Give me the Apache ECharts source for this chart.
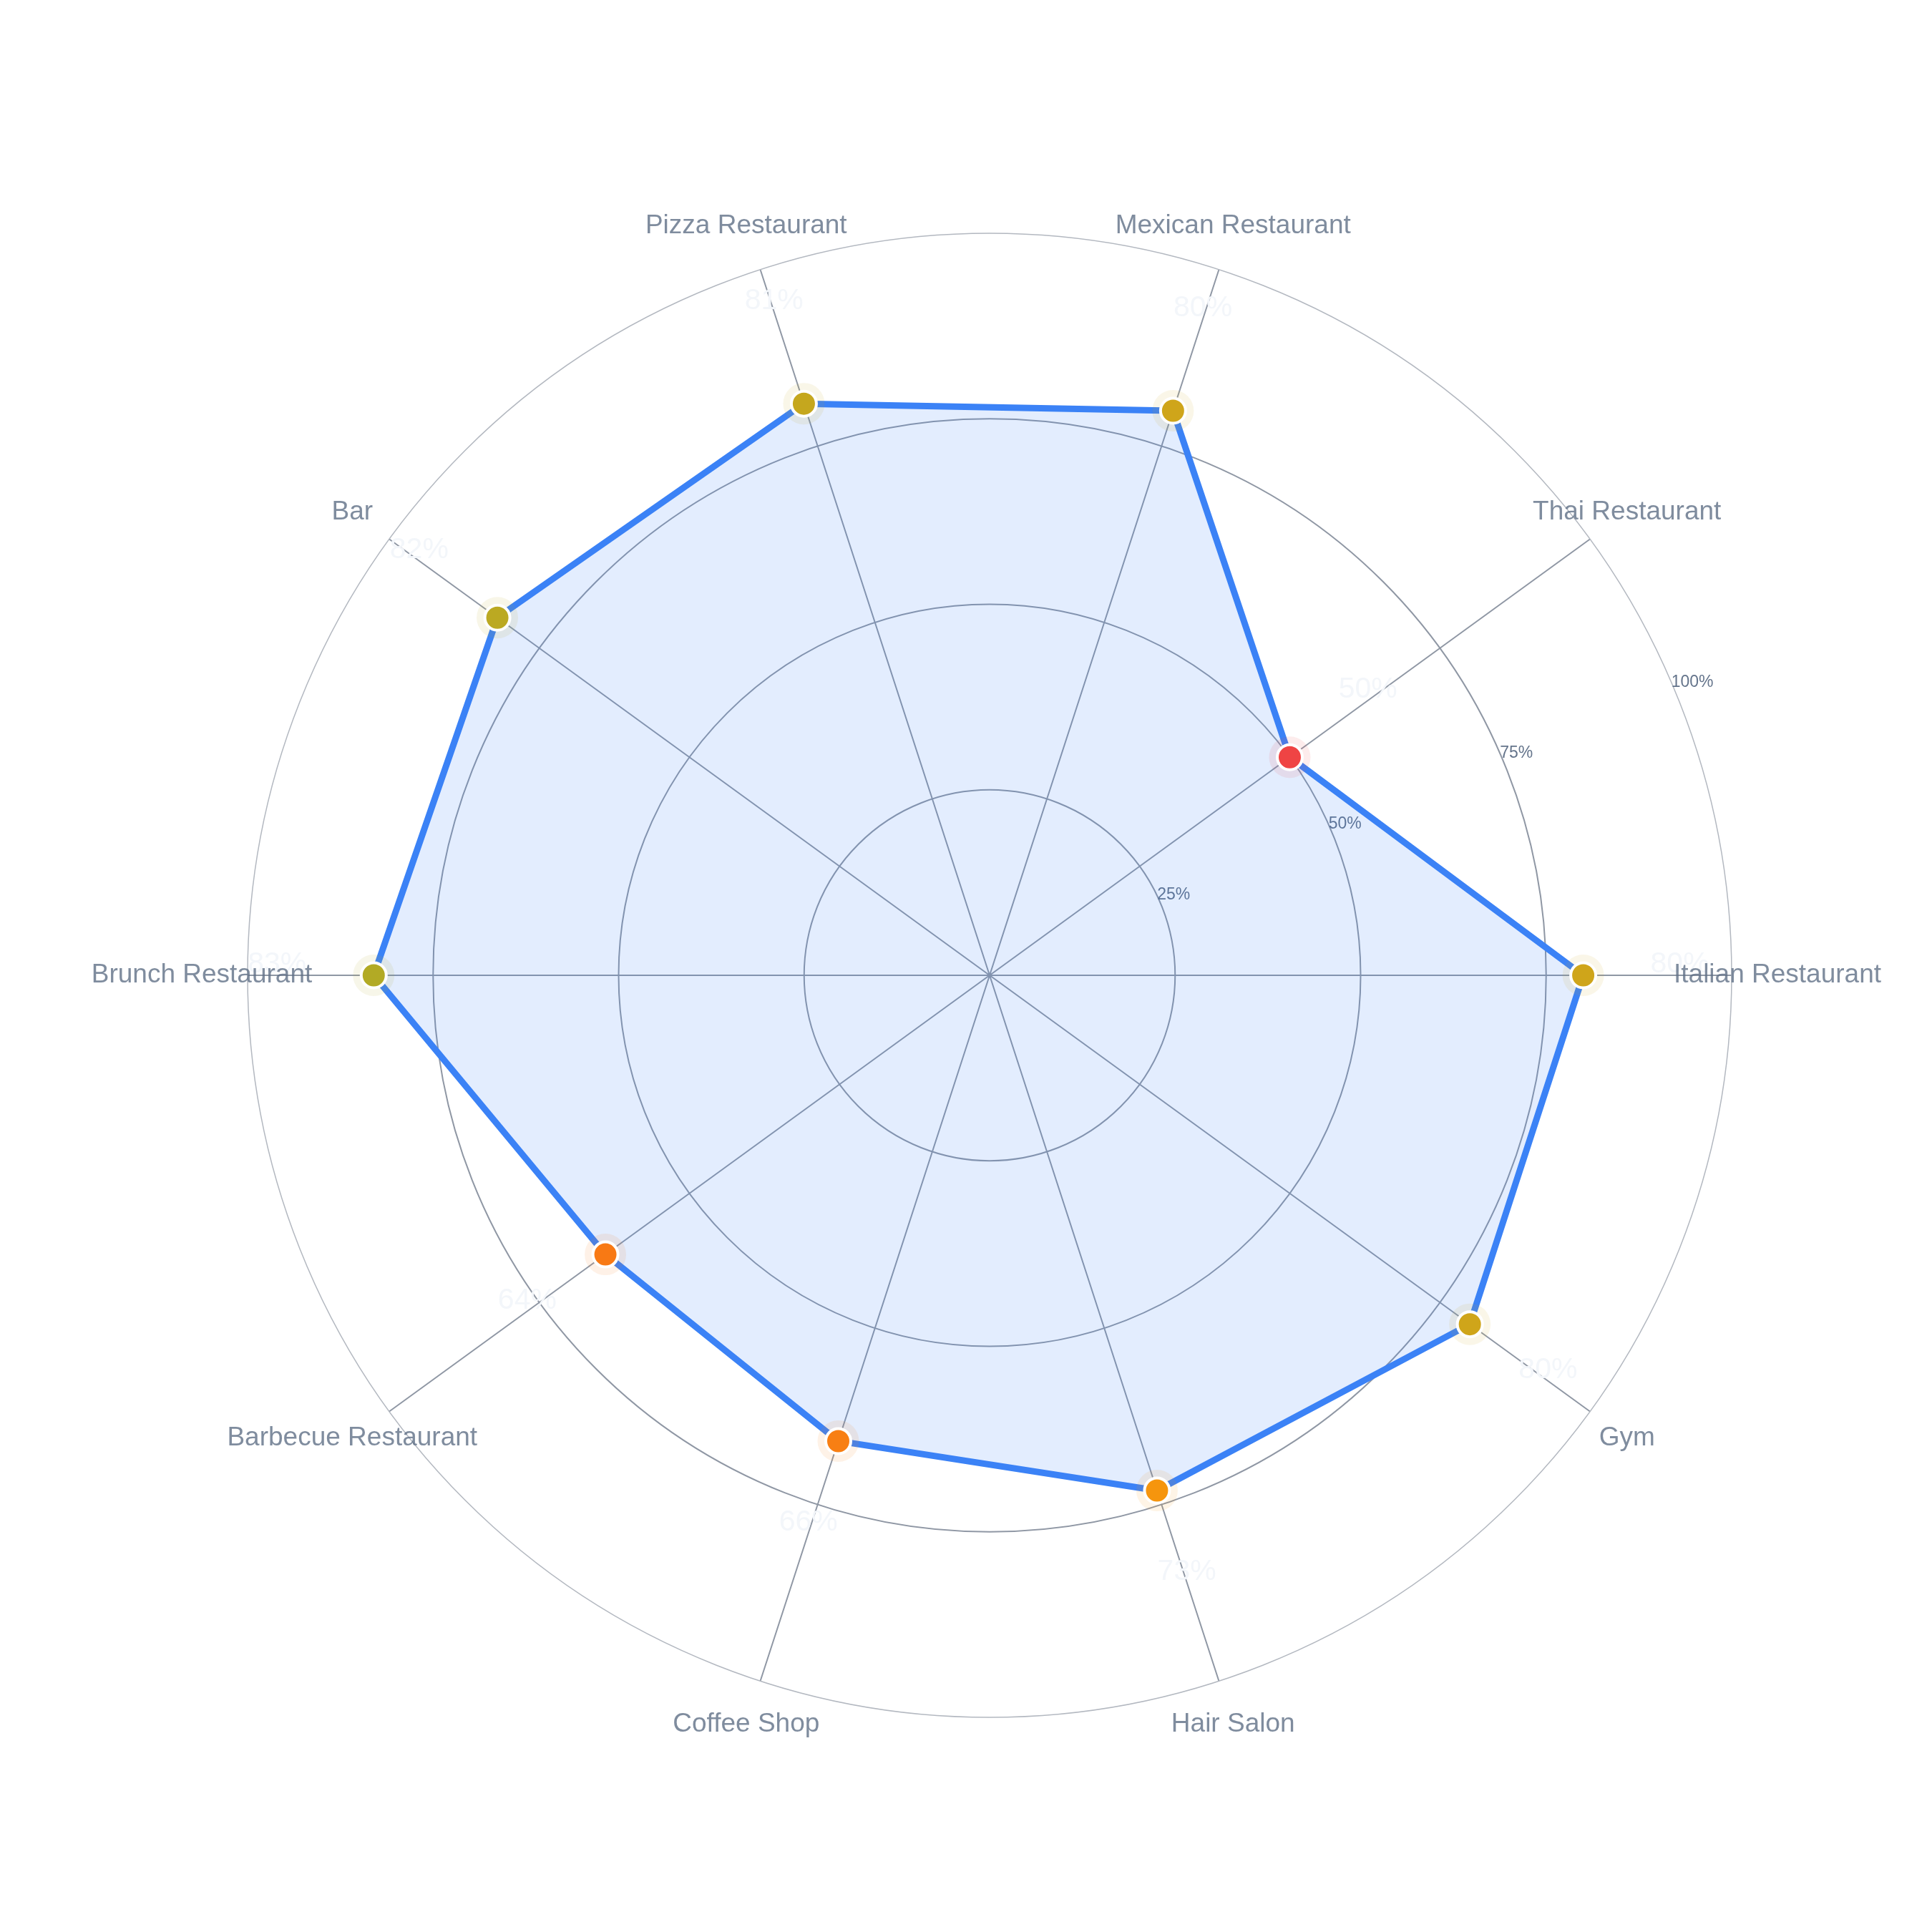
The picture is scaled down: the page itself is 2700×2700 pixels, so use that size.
<!DOCTYPE html>
<html>
<head>
<meta charset="utf-8">
<style>
  html, body { margin: 0; padding: 0; background: #ffffff; }
  #chart { width: 2700px; height: 2700px; }
</style>
<script src="https://cdn.jsdelivr.net/npm/echarts@6/dist/echarts.min.js"></script>
</head>
<body>
<div id="chart"></div>
<script>
const categories = ['Italian Restaurant', 'Thai Restaurant', 'Mexican Restaurant', 'Pizza Restaurant', 'Bar',
  'Brunch Restaurant', 'Barbecue Restaurant', 'Coffee Shop', 'Hair Salon', 'Gym'];
const values = [80, 50, 80, 81, 82, 83, 64, 66, 73, 80];
const radiusTicks = [0, 25, 50, 75, 100];

const FONT = '"Liberation Sans", Arial, Helvetica, sans-serif';
const step = 360 / categories.length;
const angleOf = i => i * step;

// colour scale for markers (red -> orange -> amber -> green)
const stops = [[50, [239, 68, 68]], [62, [249, 115, 22]], [76, [245, 158, 11]], [98, [34, 197, 94]]];
function markerRGB(v) {
  if (v <= stops[0][0]) return stops[0][1];
  for (let k = 1; k < stops.length; k++) {
    if (v <= stops[k][0]) {
      const t = (v - stops[k - 1][0]) / (stops[k][0] - stops[k - 1][0]);
      return stops[k - 1][1].map((c, j) => Math.round(c + (stops[k][1][j] - c) * t));
    }
  }
  return stops[stops.length - 1][1];
}
const rgba = (c, a) => 'rgba(' + c[0] + ',' + c[1] + ',' + c[2] + ',' + a + ')';

const ring = values.map((v, i) => [v, angleOf(i)]);
ring.push([values[0], 360]);

const dotData = values.map((v, i) => {
  const a = angleOf(i) * Math.PI / 180;
  return {
    value: [v, angleOf(i)],
    label: { offset: [Math.cos(a) * 135, -Math.sin(a) * 135 - 15] }
  };
});
const catData = categories.map((c, i) => {
  const a = angleOf(i) * Math.PI / 180;
  return {
    name: c,
    value: [radiusTicks[radiusTicks.length - 1], angleOf(i)],
    label: { offset: [Math.cos(a) * 64, -Math.sin(a) * 64] }
  };
});

const chart = echarts.init(document.getElementById('chart'), null, { renderer: 'canvas' });
const center = [1383, 1363];
const R = 1037;
chart.setOption({
  animation: false,
  backgroundColor: '#ffffff',
  polar: [
    { center: center, radius: R },
    { center: center, radius: R }
  ],
  angleAxis: [
    {
      polarIndex: 0, type: 'value', min: 0, max: 360, interval: step,
      startAngle: 0, clockwise: false,
      axisLine: { show: true, lineStyle: { color: '#b3b8c0', width: 1.5 } },
      axisTick: { show: false },
      axisLabel: { show: false },
      splitLine: { show: true, lineStyle: { color: '#8f97a4', width: 2 } }
    },
    {
      polarIndex: 1, type: 'value', min: 0, max: 360, startAngle: 22.5, clockwise: false,
      axisLine: { show: false }, axisTick: { show: false }, axisLabel: { show: false }, splitLine: { show: false }
    }
  ],
  radiusAxis: [
    {
      polarIndex: 0, type: 'value', min: 0, max: 100, interval: 25,
      axisLine: { show: false }, axisTick: { show: false }, axisLabel: { show: false },
      splitLine: { show: true, lineStyle: { color: ['#8f97a4', '#8f97a4', '#8f97a4', '#8f97a4', 'rgba(0,0,0,0)'], width: 2 } }
    },
    {
      polarIndex: 1, type: 'value', min: 0, max: 100, interval: 25,
      axisLine: { show: false }, axisTick: { show: false }, splitLine: { show: false },
      axisLabel: {
        show: true, margin: 14, align: 'left', verticalAlign: 'middle',
        color: '#64748b', fontSize: 23, fontFamily: FONT,
        formatter: v => (v === 0 ? '' : v + '%')
      }
    }
  ],
  series: [
    {
      type: 'line', coordinateSystem: 'polar', polarIndex: 0,
      data: ring, symbol: 'none', silent: true, z: 2,
      lineStyle: { color: '#3b82f6', width: 9 },
      areaStyle: { color: 'rgba(59,130,246,0.14)', opacity: 1 }
    },
    {
      type: 'scatter', coordinateSystem: 'polar', polarIndex: 0, silent: true, z: 3,
      data: values.map((v, i) => [v, angleOf(i)]), symbolSize: 58,
      itemStyle: { color: p => rgba(markerRGB(p.value[0]), 0.1), opacity: 1 }
    },
    {
      type: 'scatter', coordinateSystem: 'polar', polarIndex: 0, silent: true, z: 4,
      data: dotData, symbolSize: 35,
      itemStyle: { color: p => rgba(markerRGB(p.value[0]), 1), borderColor: '#ffffff', borderWidth: 4, opacity: 1 },
      label: {
        show: true, position: 'inside', color: '#f3f6fa', fontSize: 41, fontFamily: FONT,
        formatter: p => p.value[0] + '%'
      }
    },
    {
      type: 'scatter', coordinateSystem: 'polar', polarIndex: 0, silent: true, z: 5, clip: false,
      data: catData, symbolSize: 1, itemStyle: { color: 'rgba(0,0,0,0)' },
      label: {
        show: true, position: 'inside', color: '#5f6f86', fontSize: 37, fontFamily: FONT,
        formatter: p => p.name
      }
    }
  ]
});
</script>
</body>
</html>
